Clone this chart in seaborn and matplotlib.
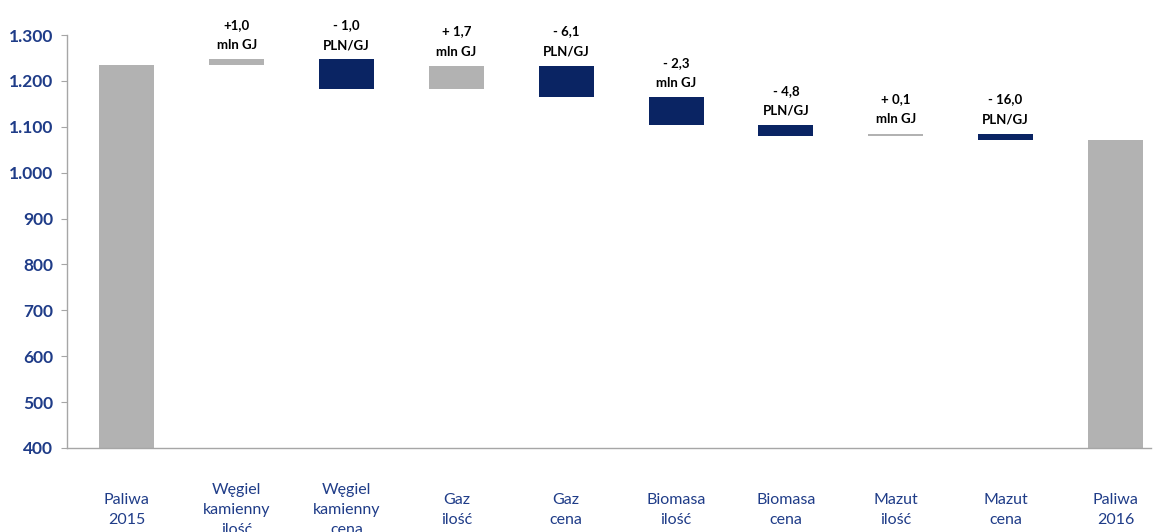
import numpy as np
import pandas as pd
import matplotlib
matplotlib.use('Agg')
import matplotlib.pyplot as plt
from matplotlib.ticker import FuncFormatter
import seaborn as sns

# Dane: wykres wodospadowy kosztów paliw 2015 -> 2016
categories = ['Paliwa\n2015', 'Węgiel\nkamienny\nilość', 'Węgiel\nkamienny\ncena',
              'Gaz\nilość', 'Gaz\ncena', 'Biomasa\nilość', 'Biomasa\ncena',
              'Mazut\nilość', 'Mazut\ncena', 'Paliwa\n2016']
start_value = 1235
deltas = [12, -65, 51, -69, -60, -24, 5, -14]
end_value = 1072
delta_labels = ['+1,0\nmln GJ', '- 1,0\nPLN/GJ', '+ 1,7\nmln GJ', '- 6,1\nPLN/GJ',
                '- 2,3\nmln GJ', '- 4,8\nPLN/GJ', '+ 0,1\nmln GJ', '- 16,0\nPLN/GJ']

GRAY = '#B2B2B2'
NAVY = '#0A2463'
TXT = '#1F3C88'

# budowa słupków
level = start_value
bottoms = [0]
heights = [start_value]
colors = [GRAY]
for d in deltas:
    new = level + d
    bottoms.append(min(level, new))
    heights.append(abs(d))
    colors.append(GRAY if d > 0 else NAVY)
    level = new
bottoms.append(0)
heights.append(end_value)
colors.append(GRAY)

df = pd.DataFrame({'kat': categories, 'h': heights, 'b': bottoms})

sns.set_style('white')
plt.rcParams['font.family'] = ['Lato', 'DejaVu Sans']

fig = plt.figure(figsize=(11.54, 5.32), dpi=100)
ax = fig.add_axes([0.058, 0.158, 0.939, 0.776])

sns.barplot(data=df, x='kat', y='h', bottom=df['b'].values, color=GRAY,
            width=0.5, linewidth=0, saturation=1, ax=ax)

for patch, c in zip(ax.patches, colors):
    patch.set_facecolor(c)

# etykiety zmian
for i, lab in enumerate(delta_labels, start=1):
    top = df['b'][i] + df['h'][i]
    ax.annotate(lab, xy=(i, top), xytext=(0, 6), textcoords='offset points',
                ha='center', va='bottom', fontsize=9.5, fontweight='bold',
                linespacing=1.8, color='black', annotation_clip=False)

ax.set_ylim(400, 1300)
ax.set_xlim(-0.546, 9.32)
ax.set_yticks(np.arange(400, 1301, 100))
ax.yaxis.set_major_formatter(FuncFormatter(lambda v, p: f'{int(v):,}'.replace(',', '.')))
ax.set_xlabel('')
ax.set_ylabel('')

sns.despine(ax=ax)
for s in ['left', 'bottom']:
    ax.spines[s].set_color('#A6A6A6')
    ax.spines[s].set_linewidth(1)

ax.tick_params(axis='y', left=True, length=4, color='#A6A6A6', labelsize=12.5,
               labelcolor=TXT, pad=6)
for t in ax.get_yticklabels():
    t.set_fontweight('bold')

ax.tick_params(axis='x', bottom=False, length=0, pad=45, labelsize=11.5, labelcolor=TXT)
for t in ax.get_xticklabels():
    t.set_verticalalignment('center')
    t.set_linespacing(1.55)

fig.savefig('out.png', dpi=100)
